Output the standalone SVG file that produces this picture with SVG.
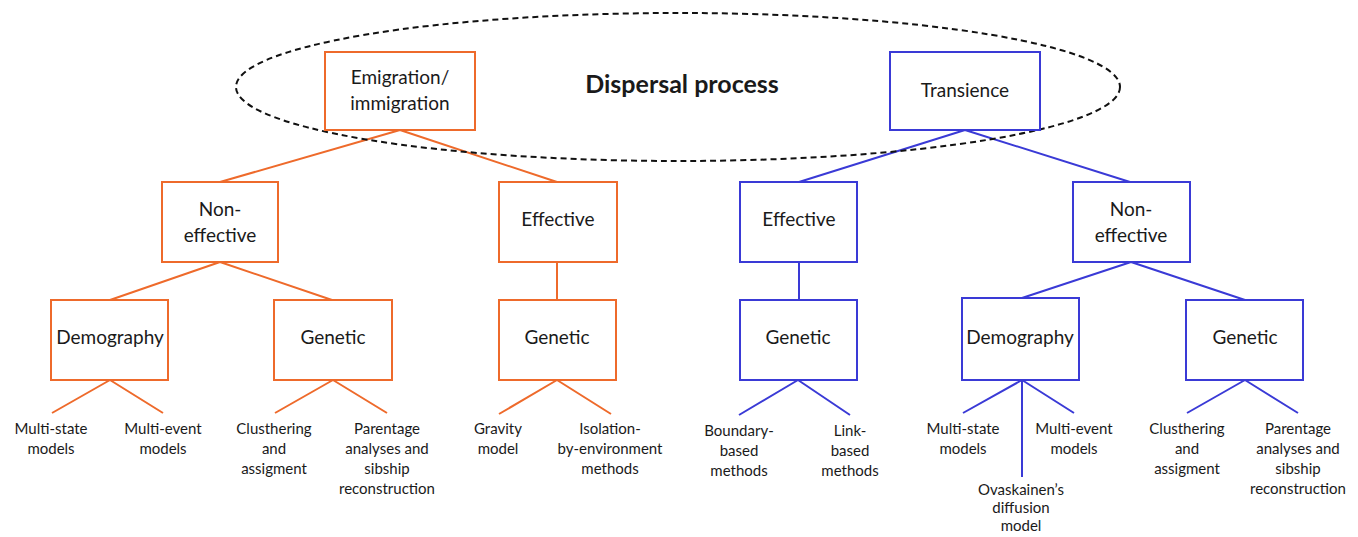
<svg xmlns="http://www.w3.org/2000/svg" width="1358" height="537" viewBox="0 0 1358 537">
<style>
.o{fill:#fff;stroke:#EE6A2B;stroke-width:2}
.b{fill:#fff;stroke:#3A3AD6;stroke-width:2}
.lo{stroke:#EE6A2B;stroke-width:2;fill:none}
.lb{stroke:#3A3AD6;stroke-width:2;fill:none}
text{font-family:Lato,"Liberation Sans",sans-serif;fill:#1a1a1a;text-anchor:middle}
.n{font-size:19px}
.s{font-size:15px}
</style>
<rect width="1358" height="537" fill="#fff"/>
<g id="connectors">
<path class="lo" d="M400 130L220 182M400 130L557 182M220 262L110 300M220 262L332 300M557 262V300M110 380L52 413M110 380L163 413M333 380L275 413M333 380L387 413M557 380L499 414M557 380L611 414"/>
<path class="lb" d="M965 130L799 182M965 130L1130 182M799 262V300M1131 262L1022 298M1131 262L1245 300M798 380L739 415M798 380L850 415M1022 380L963 413M1022 380L1074 413M1022 380V477M1245 380L1187 413M1245 380L1298 413"/>
</g>
<g id="dispersal">
<ellipse cx="678" cy="87" rx="442" ry="74" fill="none" stroke="#111" stroke-width="2" stroke-dasharray="6 4"/>
<text x="682" y="93" style="font-size:25px;font-weight:bold">Dispersal process</text>
</g>
<g id="emigration"><rect class="o" x="325" y="52" width="150" height="78"/><text class="n" x="400" y="84">Emigration/</text><text class="n" x="400" y="110">immigration</text></g>
<g id="transience"><rect class="b" x="890" y="52" width="150" height="78"/><text class="n" x="965" y="97">Transience</text></g>
<g id="noneff-o"><rect class="o" x="162" y="182" width="116" height="80"/><text class="n" x="220" y="216">Non-</text><text class="n" x="220" y="242">effective</text></g>
<g id="eff-o"><rect class="o" x="499" y="182" width="118" height="80"/><text class="n" x="558" y="226">Effective</text></g>
<g id="eff-b"><rect class="b" x="740" y="182" width="117" height="80"/><text class="n" x="799" y="226">Effective</text></g>
<g id="noneff-b"><rect class="b" x="1073" y="182" width="117" height="80"/><text class="n" x="1131" y="216">Non-</text><text class="n" x="1131" y="242">effective</text></g>
<g id="demo-o"><rect class="o" x="51" y="300" width="117" height="80"/><text class="n" x="110" y="344">Demography</text></g>
<g id="gen-o1"><rect class="o" x="274" y="300" width="118" height="80"/><text class="n" x="333" y="344">Genetic</text></g>
<g id="gen-o2"><rect class="o" x="499" y="300" width="117" height="80"/><text class="n" x="557" y="344">Genetic</text></g>
<g id="gen-b1"><rect class="b" x="740" y="300" width="117" height="80"/><text class="n" x="798" y="344">Genetic</text></g>
<g id="demo-b"><rect class="b" x="962" y="298" width="117" height="82"/><text class="n" x="1020" y="344">Demography</text></g>
<g id="gen-b2"><rect class="b" x="1186" y="300" width="117" height="80"/><text class="n" x="1245" y="344">Genetic</text></g>
<g id="leaves" class="s">
<text class="s" x="51" y="434">Multi-state</text><text class="s" x="51" y="454">models</text>
<text class="s" x="163" y="434">Multi-event</text><text class="s" x="163" y="454">models</text>
<text class="s" x="274" y="434">Clusthering</text><text class="s" x="274" y="454">and</text><text class="s" x="274" y="474">assigment</text>
<text class="s" x="387" y="434">Parentage</text><text class="s" x="387" y="454">analyses and</text><text class="s" x="387" y="474">sibship</text><text class="s" x="387" y="494">reconstruction</text>
<text class="s" x="498" y="434">Gravity</text><text class="s" x="498" y="454">model</text>
<text class="s" x="610" y="434">Isolation-</text><text class="s" x="610" y="454">by-environment</text><text class="s" x="610" y="474">methods</text>
<text class="s" x="739" y="436">Boundary-</text><text class="s" x="739" y="456">based</text><text class="s" x="739" y="476">methods</text>
<text class="s" x="850" y="436">Link-</text><text class="s" x="850" y="456">based</text><text class="s" x="850" y="476">methods</text>
<text class="s" x="963" y="434">Multi-state</text><text class="s" x="963" y="454">models</text>
<text class="s" x="1074" y="434">Multi-event</text><text class="s" x="1074" y="454">models</text>
<text class="s" x="1021" y="495">Ovaskainen’s</text><text class="s" x="1021" y="513">diffusion</text><text class="s" x="1021" y="531">model</text>
<text class="s" x="1187" y="434">Clusthering</text><text class="s" x="1187" y="454">and</text><text class="s" x="1187" y="474">assigment</text>
<text class="s" x="1298" y="434">Parentage</text><text class="s" x="1298" y="454">analyses and</text><text class="s" x="1298" y="474">sibship</text><text class="s" x="1298" y="494">reconstruction</text>
</g>
</svg>
